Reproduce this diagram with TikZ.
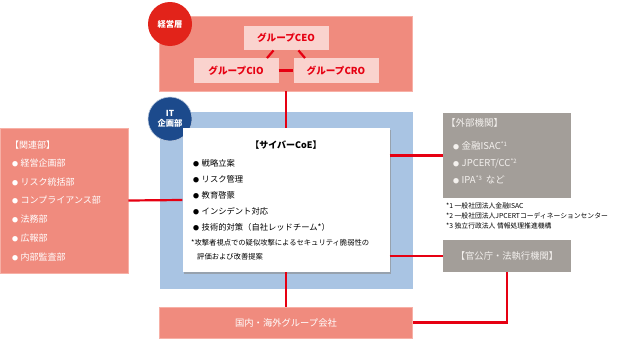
\documentclass[tikz,border=0pt]{standalone}
\usepackage{fontspec}
\setmainfont{Noto Sans CJK JP}
\usetikzlibrary{shadows,calc}
\definecolor{salmon}{HTML}{F08B7E}
\definecolor{salmonedge}{HTML}{F7B0A6}
\definecolor{pinkin}{HTML}{FAD3CE}
\definecolor{redtxt}{HTML}{E60012}
\definecolor{redline}{HTML}{E60012}
\definecolor{redcirc}{HTML}{E2231A}
\definecolor{bluebox}{HTML}{A9C4E3}
\definecolor{navy}{HTML}{1C4A8C}
\definecolor{graybox}{HTML}{A39E99}
\definecolor{graytxt}{HTML}{F4F1EE}
\newcommand{\bl}{{\fontsize{6}{6}\selectfont ●}\hspace{2.5pt}}
\begin{document}
\begin{tikzpicture}[x=1pt,y=-1pt,
  area/.style={draw=salmonedge,line width=0.8pt,fill=salmon,inner sep=0pt},
  inbox/.style={fill=pinkin,inner sep=0pt,minimum width=85pt,minimum height=24.5pt,
    text=redtxt,font=\fontsize{9.6}{10}\selectfont\bfseries},
  gbox/.style={fill=graybox,inner sep=0pt,minimum width=128pt},
  badge/.style={circle,minimum size=44pt,inner sep=0pt,text=white,align=center,
    font=\fontsize{8.3}{9.5}\selectfont\bfseries},
  conn/.style={draw=redline,line width=2.2pt},
  ltxt/.style={anchor=west,inner sep=0pt,text=white,font=\fontsize{9}{10}\selectfont},
  gtxt/.style={anchor=west,inner sep=0pt,text=graytxt,font=\fontsize{9.5}{10}\selectfont},
  ctxt/.style={anchor=west,inner sep=0pt,text=black,font=\fontsize{8.3}{9}\selectfont},
  ntxt/.style={anchor=west,inner sep=0pt,text=black,font=\fontsize{6.8}{7}\selectfont},
]
\useasboundingbox (0,0) rectangle (620,340);
\fill[white] (0,0) rectangle (620,340);

% management layer
\node[area,minimum width=253pt,minimum height=75pt] (mgmt) at (286,53.5) {};
\node[inbox] (ceo) at (286,38) {グループCEO};
\node[inbox] (cio) at (236,70.5) {グループCIO};
\node[inbox] (cro) at (336,70.5) {グループCRO};
\draw[conn] ($(ceo.south)+(-12.5,0)$) -- ($(cio.north)+(31,0)$);
\draw[conn] ($(ceo.south)+(12.5,0)$) -- ($(cro.north)+(-31,0)$);
\draw[conn] (cio.east) -- (cro.west);
\node[badge,fill=redcirc] (bmgmt) at (170,24) {経営層};

% IT planning
\node[fill=bluebox,inner sep=0pt,minimum width=253pt,minimum height=177pt] (it) at (286,200.5) {};
\node[badge,fill=navy,draw=white!70!navy,line width=0.6pt] (bit) at (170,119) {IT\\企画部};

% group companies
\node[area,minimum width=253pt,minimum height=31pt,text=white,
  font=\fontsize{9.3}{10}\selectfont] (grp) at (286,322.5) {国内・海外グループ会社};

% related depts
\node[area,minimum width=128pt,minimum height=145pt] (rel) at (64,200.5) {};
\node[ltxt] (r0) at (10,145) {【関連部】};
\node[ltxt] (r1) at (12,163) {\bl 経営企画部};
\node[ltxt] (r2) at (12,182) {\bl リスク統括部};
\node[ltxt] (r3) at (12,200) {\bl コンプライアンス部};
\node[ltxt] (r4) at (12,219) {\bl 法務部};
\node[ltxt] (r5) at (12,238) {\bl 広報部};
\node[ltxt] (r6) at (12,257) {\bl 内部監査部};

% external
\node[gbox,minimum height=85pt] (ext) at (507,155.5) {};
\node[gtxt] (e0) at (446,123) {【外部機関】};
\node[gtxt] (e1) at (453,146) {\bl 金融ISAC{\fontsize{6}{6}\selectfont\raisebox{3pt}{*1}}};
\node[gtxt] (e2) at (453,163) {\bl JPCERT/CC{\fontsize{6}{6}\selectfont\raisebox{3pt}{*2}}};
\node[gtxt] (e3) at (453,180) {\bl IPA{\fontsize{6}{6}\selectfont\raisebox{3pt}{*3}}\hspace{4pt}など};
\node[ntxt] (f1) at (446,206) {*1 一般社団法人金融ISAC};
\node[ntxt] (f2) at (446,216) {*2 一般社団法人JPCERTコーディネーションセンター};
\node[ntxt] (f3) at (446,226) {*3 独立行政法人 情報処理推進機構};

% government
\node[gbox,minimum height=32pt,text=graytxt,font=\fontsize{9.3}{10}\selectfont] (gov) at (507,256) {【官公庁・法執行機関】};

% CoE
\node[fill=white,inner sep=0pt,minimum width=207pt,minimum height=144pt,
  drop shadow={shadow xshift=1.5pt,shadow yshift=-1.5pt,fill=black!45,opacity=0.6}] (coe) at (286,200) {};
\node[inner sep=0pt,font=\fontsize{9}{10}\selectfont\bfseries] (ct) at (286,145) {【サイバーCoE】};
\node[ctxt] (c1) at (193,163) {\bl 戦略立案};
\node[ctxt] (c2) at (193,179) {\bl リスク管理};
\node[ctxt] (c3) at (193,195) {\bl 教育啓蒙};
\node[ctxt] (c4) at (193,211) {\bl インシデント対応};
\node[ctxt] (c5) at (193,227) {\bl 技術的対策（自社レッドチーム*）};
\node[ntxt,font=\fontsize{7.3}{8}\selectfont] (n1) at (191,243) {*攻撃者視点での疑似攻撃によるセキュリティ脆弱性の};
\node[ntxt,font=\fontsize{7.3}{8}\selectfont] (n2) at (197,257) {評価および改善提案};

% connectors
\draw[conn] (mgmt.south) -- (coe.north);
\draw[conn] (coe.south) -- (grp.north);
\draw[conn] (rel.east) -- (coe.west);
\draw[conn] (coe.east |- ext.west) -- (ext.west);
\draw[conn] (coe.east |- gov.west) -- (gov.west);
\draw[conn] (gov.south) |- (grp.east);
\end{tikzpicture}
\end{document}
